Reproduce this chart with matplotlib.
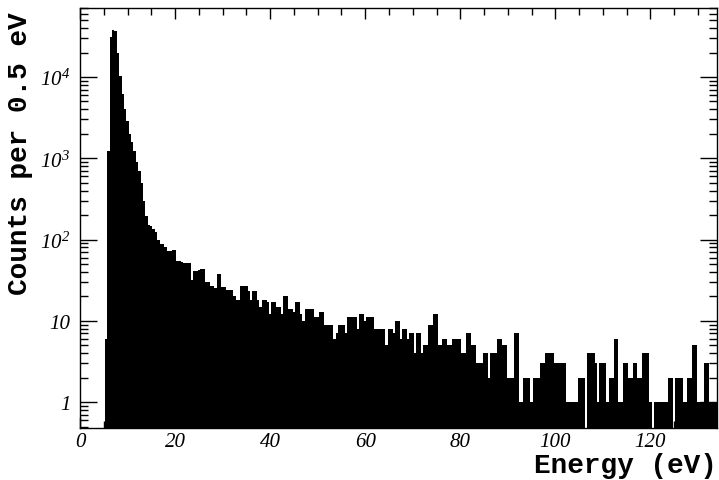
import numpy as np
import matplotlib
matplotlib.use("Agg")
import matplotlib.pyplot as plt
from matplotlib.ticker import FixedLocator, LogLocator, NullFormatter, MultipleLocator

# ---- data (counts per 0.5 eV bin) ----
bin_width = 0.5
first_bin_center = 5.5
counts = [
    6, 1240, 31000, 38000, 37000, 20000, 10200, 6200, 4000, 2900,
    2000, 1600, 1240, 910, 700, 500, 300, 195, 150, 148,
    134, 125, 100, 88, 88, 80, 73, 73, 75, 75,
    55, 55, 53, 52, 52, 52, 32, 41, 41, 42,
    44, 44, 30, 30, 27, 27, 25, 38, 38, 26,
    26, 24, 24, 24, 20, 18, 18, 27, 27, 27,
    23, 18, 23, 23, 18, 15, 18, 18, 17, 12,
    17, 17, 15, 15, 12, 20, 20, 14, 14, 13,
    17, 17, 12, 10, 14, 14, 14, 14, 11, 11,
    13, 13, 9, 9, 9, 9, 6, 7, 9, 9,
    9, 7, 11, 11, 11, 11, 8, 12, 12, 10,
    11, 11, 11, 8, 8, 8, 8, 8, 5, 8,
    8, 7, 10, 10, 6, 8, 8, 6, 7, 7,
    4, 7, 7, 4, 5, 5, 9, 9, 12, 12,
    5, 5, 6, 6, 5, 5, 6, 6, 6, 6,
    4, 4, 7, 7, 5, 5, 3, 3, 3, 4,
    4, 2, 4, 4, 4, 6, 6, 5, 5, 2,
    2, 2, 7, 7, 1, 1, 2, 2, 2, 1,
    2, 2, 2, 3, 3, 4, 4, 4, 4, 3,
    3, 3, 3, 3, 1, 1, 1, 1, 1, 2,
    2, 2, 0, 4, 4, 4, 3, 1, 3, 3,
    3, 1, 2, 2, 6, 6, 1, 1, 3, 3,
    2, 2, 3, 3, 2, 2, 4, 4, 4, 1,
    0, 1, 1, 1, 1, 1, 1, 2, 2, 0,
    2, 2, 2, 1, 1, 2, 2, 5, 5, 1,
    1, 1, 3, 3, 1, 1, 1, 1,
]
x_ticks = [0, 20, 40, 60, 80, 100, 120]
y_ticks = [1, 10, 100, 1000, 10000]
y_tick_labels = ["1", "10", r"$10^{2}$", r"$10^{3}$", r"$10^{4}$"]
x_range = (0, 134)
y_range = (0.48, 70600)

plt.rcParams["mathtext.fontset"] = "custom"
plt.rcParams["mathtext.rm"] = "Liberation Serif:italic"
plt.rcParams["mathtext.it"] = "Liberation Serif:italic"

fig = plt.figure(figsize=(7.19, 4.81), dpi=100)
ax = fig.add_axes([80 / 719, 1 - 429 / 481, 637 / 719, 420 / 481])

counts_arr = np.array(counts, dtype=float)
edges = first_bin_center - bin_width / 2 + bin_width * np.arange(len(counts_arr) + 1)
floor = 0.3
ax.stairs(np.maximum(counts_arr, floor), edges, fill=True, baseline=floor,
          color="black", linewidth=0)

ax.set_yscale("log")
ax.set_xlim(*x_range)
ax.set_ylim(*y_range)

ax.xaxis.set_major_locator(FixedLocator(x_ticks))
ax.xaxis.set_minor_locator(MultipleLocator(5))
ax.set_xticklabels([str(v) for v in x_ticks])
ax.yaxis.set_major_locator(FixedLocator(y_ticks))
ax.yaxis.set_minor_locator(LogLocator(base=10, subs=np.arange(2, 10)))
ax.yaxis.set_minor_formatter(NullFormatter())
ax.set_yticklabels(y_tick_labels)

for lab in ax.get_xticklabels() + ax.get_yticklabels():
    lab.set_fontfamily("Liberation Serif")
    lab.set_fontstyle("italic")
    lab.set_fontsize(15)

ax.tick_params(axis="both", which="both", direction="in", top=True, right=True,
               width=1.0, color="black")
ax.tick_params(axis="x", which="major", length=8, pad=3)
ax.tick_params(axis="x", which="minor", length=5)
ax.tick_params(axis="y", which="major", length=12, pad=7)
ax.tick_params(axis="y", which="minor", length=6)
for s in ax.spines.values():
    s.set_linewidth(1.0)
    s.set_color("black")

fig.text(20 / 719, 1 - 154 / 481, "Counts per 0.5 eV", rotation=90,
         family="Liberation Mono", weight="bold", fontsize=20,
         ha="center", va="center")
fig.text(717 / 719, 1 - 466 / 481, "Energy (eV)",
         family="Liberation Mono", weight="bold", fontsize=20,
         ha="right", va="center")

fig.savefig("out.png", dpi=100)
